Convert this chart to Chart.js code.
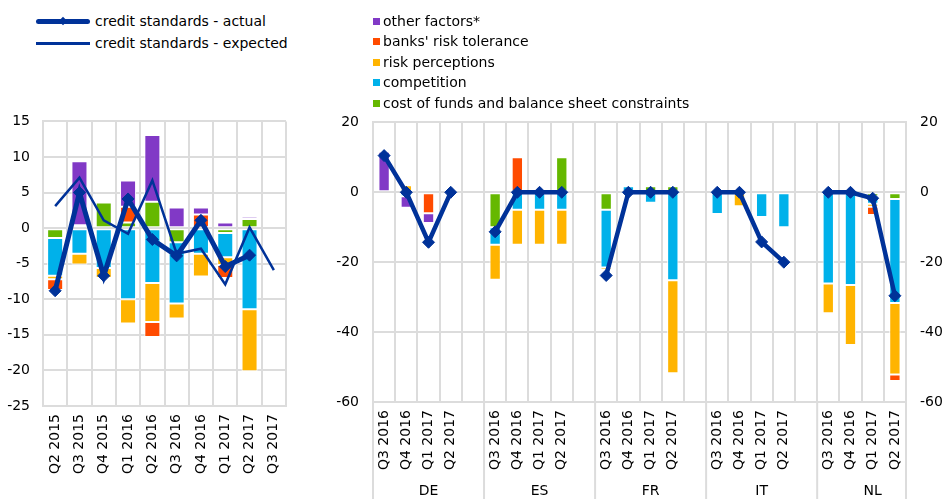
<!DOCTYPE html>
<html>
<head>
<meta charset="utf-8">
<script src="https://cdn.jsdelivr.net/npm/chart.js@4.4.1/dist/chart.umd.min.js"></script>
<style>
body { margin: 0; width: 946px; height: 499px; position: relative; background: #fff; overflow: hidden; font-family: "DejaVu Sans", sans-serif; }
canvas { position: absolute; }
#leftChart { left: 0; top: 100px; }
#rightChart { left: 330px; top: 100px; }
.legend { position: absolute; font-size: 14px; color: #000; line-height: 20px; white-space: nowrap; }
.legend .row { position: relative; height: 20px; }
.legend .mark { position: absolute; }
.legend .text { position: absolute; top: 0; }
</style>
</head>
<body>
<canvas id="leftChart" width="300" height="399"></canvas>
<canvas id="rightChart" width="616" height="399"></canvas>
<div class="legend" id="lineLegend" style="left:36px; top:11px; width:260px;"></div>
<div class="legend" id="barLegend" style="left:373px; top:11px; width:340px;"></div>
<script>
// euro area panel
var eaQuarters = ['Q2 2015', 'Q3 2015', 'Q4 2015', 'Q1 2016', 'Q2 2016', 'Q3 2016', 'Q4 2016', 'Q1 2017', 'Q2 2017', 'Q3 2017'];
var eaCost = [-1.4, 0.4, 3.6, 0.8, 3.7, -2.0, null, -0.7, 1.3, null];
var eaCompetition = [-5.3, -3.6, -5.6, -10.0, -7.7, -8.6, -3.6, -3.4, -11.4, null];
var eaRiskPerception = [-0.5, -1.5, -1.4, -3.4, -5.5, -2.1, -3.2, -1.1, -8.7, null];
var eaRiskTolerance = [-1.5, -0.2, -0.3, 2.2, -2.1, null, 1.9, -1.8, null, null];
var eaOther = [null, 9.0, null, 3.7, 9.4, 2.9, 1.0, 0.8, 0.3, null];
var eaActual = [-8.8, 5.0, -6.7, 4.1, -1.6, -3.9, 1.1, -5.4, -3.8, null];
var eaExpected = [3.1, 7.1, 1.1, -0.8, 6.7, -3.6, -2.9, -7.9, 0.1, -5.9];

// country panel, 4 quarters per country
var countries = ['DE', 'ES', 'FR', 'IT', 'NL'];
var countryQuarters = ['Q3 2016', 'Q4 2016', 'Q1 2017', 'Q2 2017'];
var cCost = [null, null, null, null, -10, null, null, 10, -5, null, 1.7, 1.7, null, null, null, null, null, null, -1.1, -1.9];
var cCompetition = [null, -1.1, null, null, -5, -5, -5, -5, -16.5, 1.7, -3.0, -25.2, -6.2, null, -7.1, -10, -26.1, -26.5, -2.2, -29.8];
var cRiskPerception = [null, 2.0, null, null, -10, -10, -10, -10, -0.7, null, null, -26.6, null, -4.0, null, null, -8.5, -17.2, -0.8, -20.4];
var cRiskTolerance = [null, null, -6.0, null, null, 10, null, null, null, null, null, null, null, null, null, null, null, null, -2.4, -1.9];
var cOther = [11.6, -3.3, -2.8, null, null, null, null, null, null, null, null, null, null, null, null, null, null, null, null, null];
var cActual = [10.5, 0, -14.3, 0, -11.3, 0, 0, 0, -23.8, 0, 0, 0, 0, 0, -14.2, -20, 0, 0, -1.7, -29.6];

var factorNames = ['cost of funds and balance sheet constraints', 'competition', 'risk perceptions', "banks' risk tolerance", 'other factors*'];
var factorColors = ['#65B800', '#00B1EA', '#FFB400', '#FF4B00', '#8139C6'];
var lineNames = ['credit standards - actual', 'credit standards - expected'];
var blue = '#003299';
var gridColor = '#dcdcdc';

Chart.defaults.font.family = '"DejaVu Sans", sans-serif';
Chart.defaults.font.size = 14;
Chart.defaults.color = '#000';

// pad the country series with an empty slot between countries
function spread(values) {
    var out = [];
    countries.forEach(function (c, i) {
        for (var q = 0; q < 4; q++) out.push(values[i * 4 + q]);
        if (i < countries.length - 1) out.push(null);
    });
    return out;
}

var countryLabels = spread(countries.reduce(function (acc) { return acc.concat(countryQuarters); }, []))
    .map(function (l) { return l === null ? '' : l; });

function barSets(series, pct) {
    return series.map(function (d, i) {
        return {
            type: 'bar', label: factorNames[i], data: d,
            backgroundColor: factorColors[i], borderColor: '#fff', borderWidth: 1, borderSkipped: false,
            barPercentage: pct, categoryPercentage: 1, order: 1
        };
    });
}

function actualLine(d) {
    return {
        type: 'line', label: lineNames[0], data: d, stack: 'actual', order: 0,
        borderColor: blue, backgroundColor: blue, borderWidth: 5,
        pointStyle: 'rectRot', pointRadius: 6, pointBorderWidth: 1, spanGaps: false
    };
}

var leftDatasets = [actualLine(eaActual), {
    type: 'line', label: lineNames[1], data: eaExpected, stack: 'expected', order: 0,
    borderColor: blue, borderWidth: 2.5, pointRadius: 0
}].concat(barSets([eaCost, eaCompetition, eaRiskPerception, eaRiskTolerance, eaOther], 0.66));

new Chart(document.getElementById('leftChart'), {
    type: 'bar',
    data: { labels: eaQuarters, datasets: leftDatasets },
    options: {
        responsive: false, animation: false,
        layout: { padding: { top: 17, right: 14, bottom: 0, left: 0 } },
        plugins: { legend: { display: false }, tooltip: { enabled: false } },
        scales: {
            x: {
                stacked: true,
                grid: { color: gridColor, lineWidth: 2, drawTicks: false, offset: true },
                border: { color: gridColor, width: 2 },
                ticks: { minRotation: 90, maxRotation: 90, autoSkip: false, padding: 8 },
                afterFit: function (s) { s.height = 93; }
            },
            y: {
                stacked: true, min: -25, max: 15,
                grid: { color: gridColor, lineWidth: 2, drawTicks: false },
                border: { color: gridColor, width: 2 },
                ticks: { stepSize: 5, padding: 13 },
                afterFit: function (s) { s.width = 43; }
            }
        }
    }
});

var groupPlugin = {
    id: 'countryGroups',
    afterDraw: function (chart) {
        var x = chart.scales.x, area = chart.chartArea, ctx = chart.ctx;
        var w = x.getPixelForValue(1) - x.getPixelForValue(0);
        ctx.save();
        ctx.strokeStyle = gridColor;
        ctx.lineWidth = 2;
        ctx.fillStyle = '#000';
        ctx.font = '14px "DejaVu Sans", sans-serif';
        ctx.textAlign = 'center';
        ctx.textBaseline = 'middle';
        countries.forEach(function (c, i) {
            var start = x.getPixelForValue(i * 5) - w / 2;
            ctx.beginPath();
            ctx.moveTo(start, area.bottom);
            ctx.lineTo(start, chart.height);
            ctx.stroke();
            ctx.fillText(c, start + 2.5 * w, 391);
        });
        ctx.beginPath();
        ctx.moveTo(area.right, area.bottom);
        ctx.lineTo(area.right, chart.height);
        ctx.stroke();
        ctx.restore();
    }
};

var rightDatasets = [actualLine(spread(cActual))]
    .concat(barSets([cCost, cCompetition, cRiskPerception, cRiskTolerance, cOther].map(spread), 0.51));
rightDatasets[0].borderWidth = 4.5;

new Chart(document.getElementById('rightChart'), {
    type: 'bar',
    data: { labels: countryLabels, datasets: rightDatasets },
    plugins: [groupPlugin],
    options: {
        responsive: false, animation: false,
        layout: { padding: { top: 15, right: 0, bottom: 0, left: 0 } },
        plugins: { legend: { display: false }, tooltip: { enabled: false } },
        scales: {
            x: {
                stacked: true,
                grid: { color: gridColor, lineWidth: 2, drawTicks: false, offset: true },
                border: { color: gridColor, width: 2 },
                ticks: { minRotation: 90, maxRotation: 90, autoSkip: false, padding: 8 },
                afterFit: function (s) { s.height = 97; }
            },
            y: {
                stacked: true, min: -60, max: 20, position: 'left',
                grid: { color: gridColor, lineWidth: 2, drawTicks: false },
                border: { color: gridColor, width: 2 },
                ticks: { stepSize: 20, padding: 14 },
                afterFit: function (s) { s.width = 43; }
            },
            y2: {
                min: -60, max: 20, position: 'right',
                grid: { drawOnChartArea: false, drawTicks: false },
                border: { color: gridColor, width: 2 },
                ticks: { stepSize: 20, padding: 14 },
                afterFit: function (s) { s.width = 40; }
            }
        }
    }
});

// legends
function addRow(parent, height, markHtml, textLeft, name) {
    var row = document.createElement('div');
    row.className = 'row';
    row.style.height = height + 'px';
    row.innerHTML = markHtml + '<span class="text" style="left:' + textLeft + 'px">' + name + '</span>';
    parent.appendChild(row);
}

var lineLegend = document.getElementById('lineLegend');
addRow(lineLegend, 22,
    '<div class="mark" style="left:0;top:8px;width:54px;height:5px;border-radius:3px;background:' + blue + '"></div>' +
    '<div class="mark" style="left:24px;top:7px;width:6px;height:6px;transform:rotate(45deg);background:' + blue + '"></div>',
    59, lineNames[0]);
addRow(lineLegend, 22,
    '<div class="mark" style="left:0;top:9px;width:54px;height:2.5px;background:' + blue + '"></div>',
    59, lineNames[1]);

var barLegend = document.getElementById('barLegend');
for (var i = factorNames.length - 1; i >= 0; i--) {
    addRow(barLegend, 20.4,
        '<div class="mark" style="left:0;top:7px;width:7px;height:7px;background:' + factorColors[i] + '"></div>',
        10, factorNames[i]);
}
</script>
</body>
</html>
